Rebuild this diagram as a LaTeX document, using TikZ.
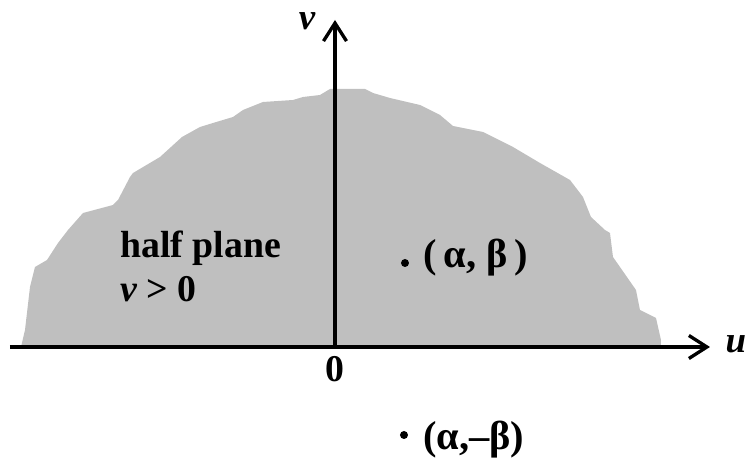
\documentclass[tikz,border=0pt]{standalone}
\usepackage{fontspec}
\setmainfont{Liberation Serif}
\usepackage{tikz}
\usetikzlibrary{arrows.meta,positioning}
\usepackage{xcolor}

\begin{document}
\begin{tikzpicture}[
  region/.style={fill=gray!50, draw=none},
  axis/.style={line width=1.9pt, -{Straight Barb[length=3.6mm,width=4.6mm,line width=1.9pt]}},
  axislabel/.style={font=\fontsize{21}{24}\selectfont\bfseries\itshape, inner sep=0pt},
  txt/.style={font=\fontsize{21.5}{25}\selectfont\bfseries, inner sep=0pt, anchor=base west},
  coords/.style={font=\fontsize{23}{26}\selectfont\bfseries, inner sep=0pt, anchor=base west},
  pt/.style={circle, fill=black, inner sep=0pt, minimum size=1.6mm}
]
\useasboundingbox (-6.70,-2.24) rectangle (8.24,6.94);

% Upper half plane (shaded, rough edge)
\fill[region]
  (-6.28,0) -- (-6.20,0.34) -- (-6.10,1.20) -- (-6.00,1.60) -- (-5.76,1.74)
  -- (-5.54,2.08) -- (-5.34,2.34) -- (-5.04,2.68) -- (-4.44,2.84) -- (-4.34,2.94)
  -- (-4.10,3.40) -- (-4.04,3.48) -- (-3.50,3.80) -- (-3.06,4.20) -- (-2.70,4.40)
  -- (-2.44,4.48) -- (-2.04,4.60) -- (-1.84,4.74) -- (-1.44,4.90) -- (-0.84,4.94)
  -- (-0.64,5.00) -- (-0.30,5.04) -- (-0.10,5.16) -- (0.60,5.16) -- (0.76,5.08)
  -- (1.10,4.98) -- (1.70,4.84) -- (2.10,4.64) -- (2.36,4.42) -- (2.96,4.30)
  -- (3.56,4.00) -- (4.10,3.68) -- (4.70,3.34) -- (4.96,3.00) -- (5.12,2.60)
  -- (5.40,2.34) -- (5.50,2.28) -- (5.56,1.80) -- (6.02,1.14) -- (6.10,0.74)
  -- (6.42,0.58) -- (6.52,0.14) -- (6.52,0) -- cycle;

% Axes
\coordinate (O) at (0,0);
\coordinate (ustart) at (-6.50,0);
\coordinate (uend) at (7.50,0);
\coordinate (vend) at (0,6.54);
\draw[axis] (ustart) -- (uend);
\draw[axis] (O) -- (vend);
\node[axislabel] (ulabel) at (8.02,0.06) {u};
\node[axislabel] (vlabel) at (-0.56,6.52) {v};
\node[txt, anchor=base] (zero) at (0,-0.70) {0};

% Region label
\node[txt] (halfplane) at (-4.30,1.78) {half plane};
\node[txt] (vcond) at (-4.30,0.90) {{\itshape v} > 0};

% Point and its mirror image
\node[pt] (dab) at (1.40,1.68) {};
\node[coords] (pab) at (1.76,1.58) {(\,α, β\,)};
\node[pt] (damb) at (1.38,-1.76) {};
\node[coords] (pamb) at (1.76,-2.06) {(α,–β)};

\end{tikzpicture}
\end{document}
